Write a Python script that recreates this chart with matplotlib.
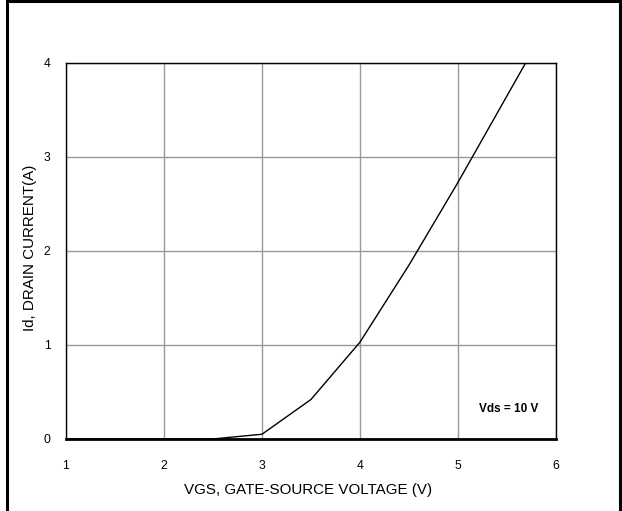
import numpy as np
import matplotlib.pyplot as plt
from matplotlib.lines import Line2D

plt.rcParams['font.family'] = ['Liberation Sans', 'DejaVu Sans']

# transfer characteristic
vgs = [1.0, 2.0, 2.5, 3.0, 3.5, 4.0, 4.5, 5.0, 5.69]
id_a = [0.0, 0.0, 0.0, 0.05, 0.42, 1.03, 1.85, 2.73, 4.0]
xticks = [1, 2, 3, 4, 5, 6]
yticks = [0, 1, 2, 3, 4]

fig = plt.figure(figsize=(6.22, 5.11), dpi=100)
ax = fig.add_axes([0.106, 0.141, 0.788, 0.736])

ax.plot(vgs, id_a, color='black', lw=1.0, clip_on=True)
ax.set_xlim(1, 6)
ax.set_ylim(0, 4)
ax.set_xticks(xticks)
ax.set_yticks(yticks)
ax.grid(True, color='#999999', lw=1.0)
ax.set_axisbelow(True)
ax.tick_params(length=0, labelsize=8.7)
ax.tick_params(axis='x', pad=15)
ax.tick_params(axis='y', pad=11)
for s in ['top', 'left', 'right']:
    ax.spines[s].set_linewidth(1.0)
ax.spines['bottom'].set_linewidth(2.0)

ax.set_xlabel('VGS, GATE-SOURCE VOLTAGE (V)', fontsize=10.9)
ax.set_ylabel('Id, DRAIN CURRENT(A)', fontsize=10.9)
ax.xaxis.set_label_coords(0.493, -0.117)
ax.yaxis.set_label_coords(-0.059, 0.509)
ax.text(5.52, 0.32, 'Vds = 10 V', fontsize=8.5, fontweight='bold',
        ha='center', va='center')

# outer frame (left, top, right only)
fig.add_artist(Line2D([0.011, 0.011], [0, 1], transform=fig.transFigure, color='black', lw=2.2))
fig.add_artist(Line2D([0.011, 0.997], [0.998, 0.998], transform=fig.transFigure, color='black', lw=2.2))
fig.add_artist(Line2D([0.997, 0.997], [0, 1], transform=fig.transFigure, color='black', lw=2.2))

fig.savefig('out.png', dpi=100)
